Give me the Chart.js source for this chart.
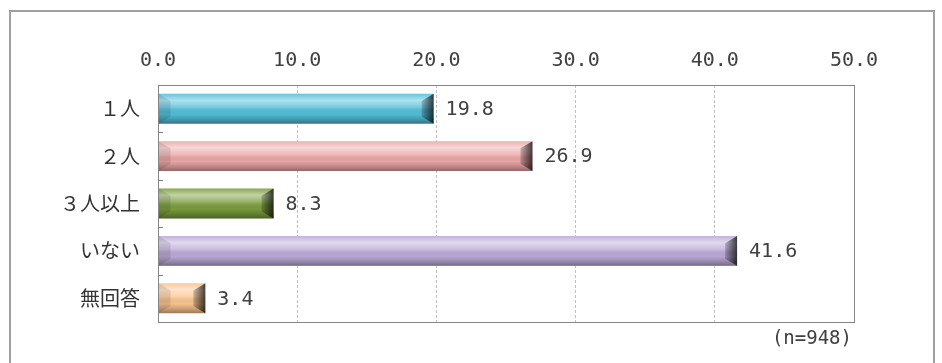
<!DOCTYPE html>
<html>
<head>
<meta charset="utf-8">
<script src="https://cdn.jsdelivr.net/npm/chart.js@4.4.1/dist/chart.umd.min.js"></script>
<style>
  html, body { margin: 0; padding: 0; background: #fff; }
  #wrap { width: 942px; height: 363px; }
</style>
</head>
<body>
<div id="wrap"><canvas id="myChart"></canvas></div>
<script>
const labels = ['１人', '２人', '３人以上', 'いない', '無回答'];
const values = [19.8, 26.9, 8.3, 41.6, 3.4];
const barColors = ['#52bfd9', '#eca7a7', '#7b9d3d', '#bcaad8', '#fbc590'];
const xTicks = [0, 10, 20, 30, 40, 50];
const sampleNote = '(n=948)';

const numFont = '20px "DejaVu Sans Mono"';
const textColor = '#404040';

// frame around the whole figure, plot border, inside tick marks
const framePlugin = {
  id: 'frame',
  beforeDraw(chart) {
    const c = chart.ctx;
    c.save();
    c.strokeStyle = '#a0a0a0';
    c.lineWidth = 2;
    c.strokeRect(10, 11, 924, 400);
    c.restore();
  },
  afterDraw(chart) {
    const c = chart.ctx;
    const a = chart.chartArea;
    const y = chart.scales.y;
    c.save();
    c.strokeStyle = '#868686';
    c.lineWidth = 1;
    c.strokeRect(Math.round(a.left) + 0.5, Math.round(a.top) + 0.5,
      Math.round(a.right - a.left), Math.round(a.bottom - a.top));
    // small ticks between categories
    const step = (a.bottom - a.top) / labels.length;
    for (let i = 1; i < labels.length; i++) {
      const ty = Math.round(y.getPixelForValue(i) - step / 2) + 0.5;
      c.beginPath();
      c.moveTo(a.left, ty);
      c.lineTo(a.left + 5, ty);
      c.stroke();
    }
    c.fillStyle = textColor;
    c.font = '19px "DejaVu Sans Mono"';
    c.textAlign = 'right';
    c.textBaseline = 'middle';
    c.fillText(sampleNote, a.right - 2, a.bottom + 17);
    c.restore();
  }
};

// bevel shading on each bar plus its value to the right
const bevelPlugin = {
  id: 'bevel',
  afterDatasetsDraw(chart) {
    const c = chart.ctx;
    const meta = chart.getDatasetMeta(0);
    c.save();
    meta.data.forEach((bar, i) => {
      const p = bar.getProps(['x', 'y', 'base', 'height'], true);
      const x0 = Math.min(p.base, p.x), x1 = Math.max(p.base, p.x);
      const y0 = p.y - p.height / 2, y1 = p.y + p.height / 2;
      const h = y1 - y0;
      const d = Math.min(12, (x1 - x0) / 2);
      const b = h * 0.24;

      let g = c.createLinearGradient(0, y0, 0, y1);
      g.addColorStop(0, 'rgba(255,255,255,0.1)');
      g.addColorStop(0.22, 'rgba(255,255,255,0.55)');
      g.addColorStop(0.45, 'rgba(255,255,255,0.2)');
      g.addColorStop(0.68, 'rgba(0,0,0,0.02)');
      g.addColorStop(0.84, 'rgba(0,0,0,0.18)');
      g.addColorStop(1, 'rgba(0,0,0,0.38)');
      c.fillStyle = g;
      c.fillRect(x0, y0, x1 - x0, h);

      // left end
      c.beginPath();
      c.moveTo(x0, y0);
      c.lineTo(x0 + d, y0 + b);
      c.lineTo(x0 + d, y1 - b);
      c.lineTo(x0, y1);
      c.closePath();
      c.fillStyle = 'rgba(0,0,0,0.1)';
      c.fill();

      // right end
      c.beginPath();
      c.moveTo(x1, y0);
      c.lineTo(x1 - d, y0 + b);
      c.lineTo(x1 - d, y1 - b);
      c.lineTo(x1, y1);
      c.closePath();
      g = c.createLinearGradient(x1 - d, 0, x1, 0);
      g.addColorStop(0, 'rgba(0,0,0,0.18)');
      g.addColorStop(1, 'rgba(0,0,0,0.72)');
      c.fillStyle = g;
      c.fill();

      c.fillStyle = textColor;
      c.font = numFont;
      c.textAlign = 'left';
      c.textBaseline = 'middle';
      c.fillText(values[i].toFixed(1), x1 + 12, p.y + 1);
    });
    c.restore();
  }
};

const chrt = new Chart(document.getElementById('myChart'), {
  type: 'bar',
  data: {
    labels: labels,
    datasets: [{
      data: values,
      backgroundColor: barColors,
      borderWidth: 0,
      barPercentage: 0.63,
      categoryPercentage: 1.0
    }]
  },
  options: {
    indexAxis: 'y',
    animation: false,
    responsive: true,
    maintainAspectRatio: false,
    layout: { padding: { left: 0, top: 0, right: 88, bottom: 41 } },
    plugins: {
      legend: { display: false },
      tooltip: { enabled: false }
    },
    scales: {
      x: {
        position: 'top',
        min: 0,
        max: 50,
        afterBuildTicks: s => { s.ticks = xTicks.map(v => ({ value: v })); },
        afterFit: s => { s.height = 85; },
        ticks: {
          callback: v => Number(v).toFixed(1),
          font: { family: 'DejaVu Sans Mono', size: 20 },
          color: textColor,
          padding: 12,
          maxRotation: 0
        },
        grid: {
          drawTicks: false,
          color: ctx => (ctx.tick && (ctx.tick.value === 0 || ctx.tick.value === 50)) ? 'rgba(0,0,0,0)' : '#c0c0c0'
        },
        border: { display: false, dash: [3, 2] }
      },
      y: {
        afterFit: s => { s.width = 158; },
        ticks: {
          font: { family: 'Noto Sans CJK JP', size: 20 },
          color: '#333333',
          padding: 18
        },
        grid: { display: false, drawTicks: false },
        border: { display: false }
      }
    }
  },
  plugins: [framePlugin, bevelPlugin]
});
</script>
</body>
</html>
